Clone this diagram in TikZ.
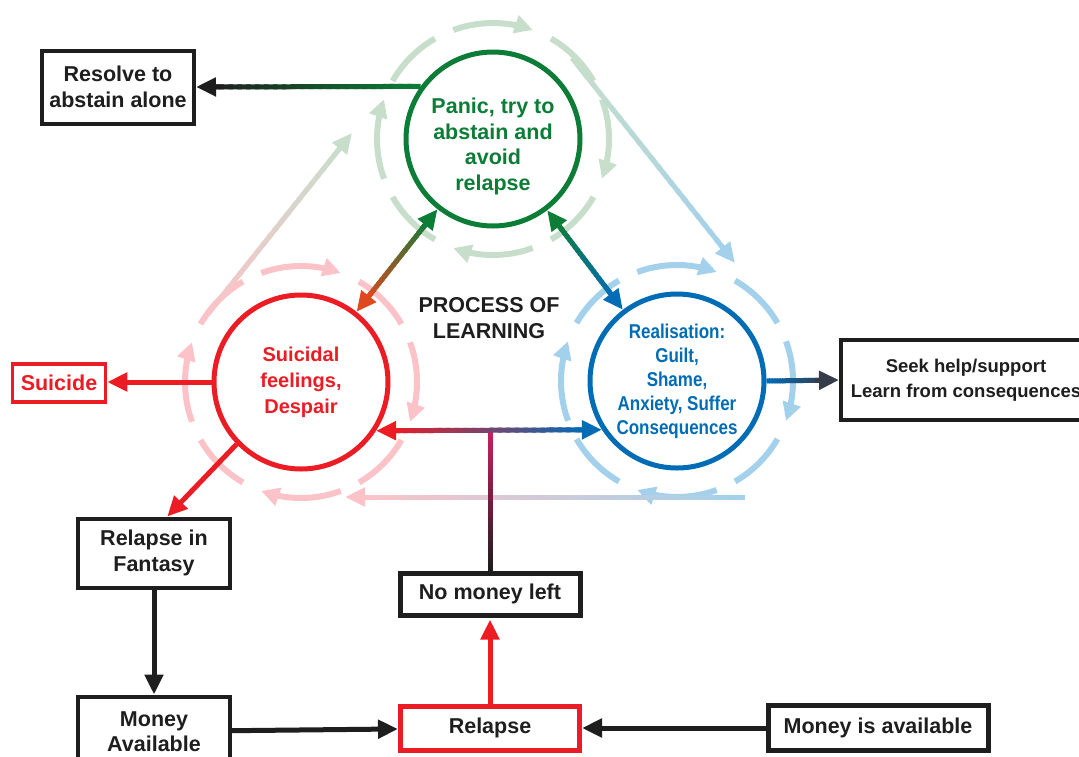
\documentclass[tikz,border=0pt]{standalone}
\usepackage{fontspec}
\setmainfont{Liberation Sans}
\newfontfamily\narrowsans{Liberation Sans}[FakeStretch=0.85]
\usetikzlibrary{arrows.meta, positioning, calc}
\definecolor{ink}{RGB}{30,30,30}
\definecolor{dgreen}{RGB}{12,125,55}
\definecolor{dred}{RGB}{236,28,36}
\definecolor{dblue}{RGB}{0,108,182}
\definecolor{dorange}{RGB}{224,72,30}
\definecolor{dmagenta}{RGB}{205,30,95}
\definecolor{slate}{RGB}{55,60,75}
\definecolor{pgreen}{RGB}{199,222,203}
\definecolor{pred}{RGB}{251,195,200}
\definecolor{pblue}{RGB}{163,209,235}
\tikzset{rect/.style = {
  rectangle,
  line width=4pt, fill=white,
  text centered, align=center,
  inner sep=0pt, text=ink,
  font=\bfseries\fontsize{21.5}{25.5}\selectfont
  }}
\tikzset{block/.style = {
  % Rectangle:
  rect,
  draw=ink
  }}
\tikzset{alarm/.style = {
  % Rectangle:
  rect,
  draw=dred
  }}
\tikzset{feeling/.style = {
  circle,
  draw=#1, text=#1,
  line width=5pt, fill=white,
  minimum size=174pt, inner sep=0pt,
  align=center,
  font=\bfseries\fontsize{21.5}{25.5}\selectfont
  }}
\tikzset{arrow/.style = {
  -{Triangle[length=20pt,width=18pt]},
  line width=5pt
  }}
\tikzset{ringtip/.style = {
  -{Triangle[length=18pt,width=18pt]},
  line width=6pt
  }}
% gradient line: from, to, colour at from, colour at to, cut at from, cut at to
\newcommand{\fadeline}[6]{%
  \coordinate (fa) at ($(#1)!#5!(#2)$);
  \coordinate (fb) at ($(#2)!#6!(#1)$);
  \foreach \k in {0,...,23}{%
    \pgfmathsetmacro{\ta}{\k/24}%
    \pgfmathsetmacro{\tb}{min(1,(\k+1.5)/24)}%
    \pgfmathtruncatemacro{\mix}{100-\k*100/23}%
    \draw[line width=5pt, #3!\mix!#4] ($(fa)!\ta!(fb)$) -- ($(fa)!\tb!(fb)$);}}
% dashed ring with arrows round a circle node
\newcommand{\loopring}[2]{%
  \foreach \a in {0,90,180,270}{%
    \draw[ringtip, #2, shift={(#1.center)}] plot[domain=\a-20:\a+20, samples=12, smooth] (\x:116);}%
  \foreach \a in {45,135,225,315}{%
    \draw[line width=6pt, #2, shift={(#1.center)}] plot[domain=\a-15:\a+15, samples=10, smooth] (\x:116);}}

\begin{document}
\begin{tikzpicture}[x=1pt, y=-1pt]
% LAYERS
\pgfdeclarelayer{bg}
\pgfsetlayers{bg,main}
\useasboundingbox (0,0) rectangle (1079,756);

% NODES
\node (green) [feeling=dgreen] at (493,139) {\rule{0pt}{30pt}Panic, try to\\abstain and\\avoid\\relapse};
\node (red) [feeling=dred, font=\bfseries\fontsize{20}{26}\selectfont] at (301,382) {Suicidal\\feelings,\\Despair};
\node (blue) [feeling=dblue, font=\narrowsans\bfseries\fontsize{20}{24}\selectfont] at (677,381) {Realisation:\\Guilt,\\Shame,\\Anxiety, Suffer\\Consequences};
\node (process) [text=ink, align=center, font=\bfseries\fontsize{21.5}{25.5}\selectfont] at (489,318) {PROCESS OF\\LEARNING};

\node (resolve) [block, minimum width=152pt, minimum height=73pt] at (118,87) {Resolve to\\abstain alone};
\node (suicide) [alarm, text=dred, line width=3.5pt, minimum width=93pt, minimum height=38pt] at (59,383) {Suicide};
\node (fantasy) [block, minimum width=152pt, minimum height=69pt] at (154,553) {Relapse in\\Fantasy};
\node (moneyav) [block, minimum width=152pt, minimum height=70pt, below=105pt of fantasy] {Money\\Available};
\node (relapse) [alarm, line width=5pt, minimum width=179pt, minimum height=44pt] at (490,728) {Relapse};
\node (nomoney) [block, line width=5pt, minimum width=180pt, minimum height=42pt, above=86pt of relapse] {No money left};
\node (moneyis) [block, line width=5pt, minimum width=220pt, minimum height=45pt] at (878,728) {Money is available};
\node (seek) [block, minimum width=250pt, minimum height=80pt, font=\bfseries\fontsize{18.5}{25}\selectfont] at (966,380) {Seek help/support\\Learn from consequences};

% rings and the slow cycle
\begin{pgfonlayer}{bg}
\loopring{green}{pgreen}
\loopring{red}{pred}
\loopring{blue}{pblue}
\coordinate (cyc1) at (203,320);
\coordinate (cyc2) at (352,133);
\coordinate (cyc3) at (572,58);
\coordinate (cyc4) at (735,263);
\coordinate (cyc5) at (745,497);
\coordinate (cyc6) at (345,497);
\fadeline{cyc1}{cyc2}{pred}{pgreen}{0pt}{10pt}
\draw[arrow, pgreen] ($(cyc2)!24pt!(cyc1)$) -- (cyc2);
\fadeline{cyc3}{cyc4}{pgreen}{pblue}{0pt}{10pt}
\draw[arrow, pblue] ($(cyc4)!24pt!(cyc3)$) -- (cyc4);
\fadeline{cyc5}{cyc6}{pblue}{pred}{0pt}{10pt}
\draw[arrow, pred] ($(cyc6)!24pt!(cyc5)$) -- (cyc6);
\end{pgfonlayer}

% arrows
\path (green) -- (red) coordinate[pos=0] (gr1) coordinate[pos=1] (gr2);
\fadeline{gr1}{gr2}{dgreen}{dorange}{10pt}{10pt}
\draw[arrow, dgreen] ($(gr1)!24pt!(gr2)$) -- (gr1);
\draw[arrow, dorange] ($(gr2)!24pt!(gr1)$) -- (gr2);

\path (green) -- (blue) coordinate[pos=0] (gb1) coordinate[pos=1] (gb2);
\fadeline{gb1}{gb2}{dgreen}{dblue}{10pt}{10pt}
\draw[arrow, dgreen] ($(gb1)!24pt!(gb2)$) -- (gb1);
\draw[arrow, dblue] ($(gb2)!24pt!(gb1)$) -- (gb2);

\coordinate (junc) at (nomoney.north |- red.-33);
\fadeline{junc}{nomoney.north}{dmagenta}{ink}{0pt}{0pt}
\fadeline{red.-33}{blue.213}{dred}{dblue}{10pt}{10pt}
\draw[arrow, dred] ($(red.-33)!24pt!(blue.213)$) -- (red.-33);
\draw[arrow, dblue] ($(blue.213)!24pt!(red.-33)$) -- (blue.213);

\fadeline{green.144}{resolve.east}{dgreen}{ink}{0pt}{10pt}
\draw[arrow, ink] ($(resolve.east)!24pt!(green.144)$) -- (resolve.east);

\fadeline{blue.east}{seek.west}{dblue}{slate}{0pt}{10pt}
\draw[arrow, slate] ($(seek.west)!24pt!(blue.east)$) -- (seek.west);

\draw [arrow, dred] (red.west) -- (suicide.east |- red.west);
\draw [arrow, dred] (red.224) -- (fantasy.70);
\draw [arrow, ink] (fantasy) -- (moneyav);
\draw [arrow, ink] (moneyav) -- (relapse);
\draw [arrow, ink] (moneyis) -- (relapse);
\draw [arrow, dred, shorten >=2pt] (relapse) -- (nomoney);
\end{tikzpicture}
\end{document}
